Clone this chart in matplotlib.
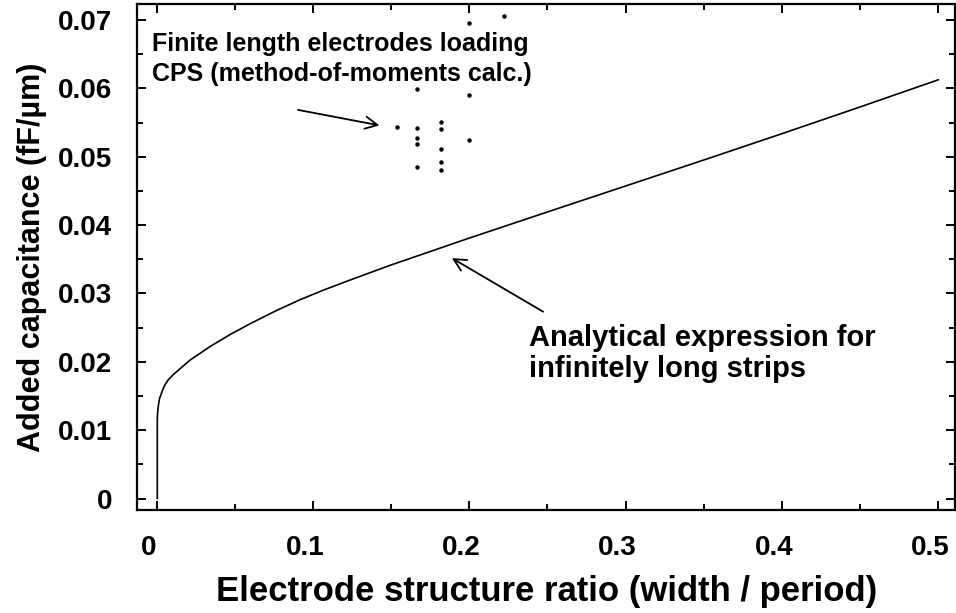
import numpy as np
import matplotlib
matplotlib.use("Agg")
import matplotlib.pyplot as plt
from matplotlib.ticker import MultipleLocator
from matplotlib.transforms import ScaledTranslation

# --- datos ---
# curva analitica (tiras infinitas)
ratio_curve = [0.0004, 0.0004, 0.0005, 0.0010, 0.0018, 0.0032, 0.0040, 0.0053,
               0.0075, 0.0106, 0.0150, 0.0213, 0.0341, 0.0469, 0.0597, 0.0768,
               0.0917, 0.1066, 0.1237, 0.15, 0.2, 0.25, 0.3, 0.35, 0.4, 0.45, 0.5]
cap_curve = [0.0000, 0.01154, 0.01228, 0.01349, 0.01461, 0.01549, 0.01600, 0.01664,
             0.01740, 0.01812, 0.01900, 0.02024, 0.02223, 0.02398, 0.02556, 0.02752,
             0.02908, 0.03048, 0.03196, 0.03417, 0.03810, 0.04192, 0.04572, 0.04952,
             0.05337, 0.05728, 0.06125]

# electrodos de longitud finita (metodo de momentos)
ratio_mom = [0.2, 0.2222, 0.1667, 0.2, 0.1538, 0.1667, 0.1818, 0.1818,
             0.1667, 0.1667, 0.2, 0.1818, 0.1667, 0.1818, 0.1818]
cap_mom = [0.06952, 0.07058, 0.05992, 0.05904, 0.05436, 0.05426, 0.05509, 0.05411,
           0.05268, 0.05180, 0.05239, 0.05112, 0.04855, 0.04920, 0.04811]

xticks = [0, 0.1, 0.2, 0.3, 0.4, 0.5]
xticklabels = ["0", "0.1", "0.2", "0.3", "0.4", "0.5"]
yticks = [0, 0.01, 0.02, 0.03, 0.04, 0.05, 0.06, 0.07]
yticklabels = ["0", "0.01", "0.02", "0.03", "0.04", "0.05", "0.06", "0.07"]

plt.rcParams['font.family'] = ['Liberation Sans', 'DejaVu Sans']
plt.rcParams['font.weight'] = 'bold'

fig = plt.figure(figsize=(9.56, 6.13), dpi=100)
ax = fig.add_axes([0.1433, 0.168, 0.856, 0.8255])

ax.plot(ratio_curve, cap_curve, color='black', lw=1.2)
ax.plot(ratio_mom, cap_mom, 'o', color='black', ms=3.2, mec='none')

ax.set_xlim(-0.0126, 0.5109)
ax.set_ylim(-0.00168, 0.07234)

ax.set_xticks(xticks)
ax.set_xticklabels(xticklabels)
ax.set_yticks(yticks)
ax.set_yticklabels(yticklabels)
ax.xaxis.set_minor_locator(MultipleLocator(0.05))
ax.yaxis.set_minor_locator(MultipleLocator(0.005))

ax.tick_params(which='both', direction='in', top=True, right=True, width=1.4)
ax.tick_params(which='major', length=6.5)
ax.tick_params(which='minor', length=4.3)
ax.tick_params(axis='x', which='major', labelsize=20, pad=18)
ax.tick_params(axis='y', which='major', labelsize=20, pad=18)
for s in ax.spines.values():
    s.set_linewidth(1.6)

# etiquetas del eje x algo desplazadas a la izquierda, como en el original
off = ScaledTranslation(-8 / 100, 0, fig.dpi_scale_trans)
for lab in ax.get_xticklabels():
    lab.set_transform(lab.get_transform() + off)

ax.set_xlabel("Electrode structure ratio (width / period)", fontsize=25,
              fontweight='bold', labelpad=10)
ax.set_ylabel("Added capacitance (fF/µm)", fontsize=22, fontweight='bold',
              labelpad=8)

ax.text(-0.003, 0.0643, "Finite length electrodes loading\nCPS (method-of-moments calc.)",
        fontsize=18, fontweight='bold', ha='left', va='center', linespacing=1.35)
ax.annotate("", xy=(0.1425, 0.05458), xytext=(0.0904, 0.05685),
            arrowprops=dict(arrowstyle='->', lw=1.3, mutation_scale=22,
                            shrinkA=0, shrinkB=0, color='black'))

ax.text(0.2379, 0.0212, "Analytical expression for\ninfinitely long strips",
        fontsize=21, fontweight='bold', ha='left', va='center', linespacing=1.1)
ax.annotate("", xy=(0.1888, 0.03517), xytext=(0.2472, 0.02733),
            arrowprops=dict(arrowstyle='->', lw=1.3, mutation_scale=22,
                            shrinkA=0, shrinkB=0, color='black'))

fig.savefig("out.png", dpi=100)
